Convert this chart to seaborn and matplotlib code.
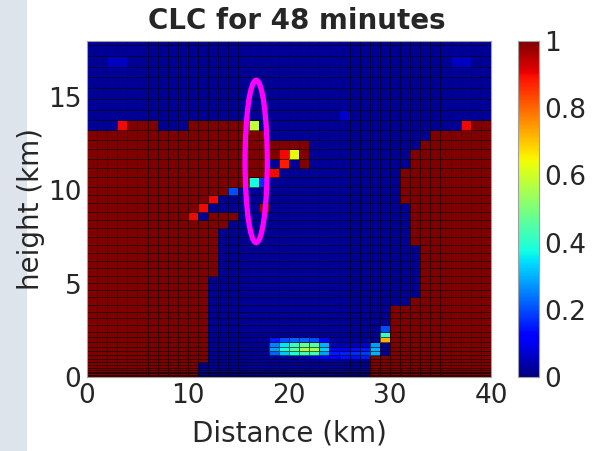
import numpy as np
import matplotlib
matplotlib.use("Agg")
import matplotlib.pyplot as plt
from matplotlib.patches import Ellipse, Rectangle
import seaborn as sns

sns.set_style("white")
plt.rcParams['font.family'] = ['DejaVu Sans']

# ---- data ----
x_edges = np.arange(0, 41, 1)  # km
z_edges = [0, 0.05, 0.11, 0.2, 0.29, 0.37, 0.5, 0.64, 0.78, 0.96,
           1.18, 1.39, 1.62, 1.89, 2.16, 2.43, 2.79, 3.14, 3.5, 3.88,
           4.29, 4.66, 5.04, 5.43, 5.83, 6.24, 6.66, 7.09, 7.52, 7.96,
           8.41, 8.85, 9.3, 9.75, 10.19, 10.73, 11.18, 11.66, 12.2, 12.7,
           13.23, 13.77, 14.33, 14.9, 15.47, 16.05, 16.63, 17.22, 17.8, 18.4]

# number of fully cloudy columns from the left edge, per level
left_cloud = [11, 11, 11, 11, 11, 11, 11, 11,
              12, 12, 12, 12, 12, 12, 12, 12, 12, 12, 12, 12, 12, 12, 12,
              13, 13, 13, 13, 13, 13,
              14, 15, 11, 12, 14, 16, 18, 18, 19, 22, 18,
              0, 0, 0, 0, 0, 0, 0, 0, 0]
# first fully cloudy column on the right side, per level
right_cloud = [28, 28, 28, 28, 28, 28, 28, 28, 28, 28,
               30, 30, 30, 30, 30, 30, 30, 30, 30,
               32,
               33, 33, 33, 33, 33, 33, 33,
               32, 32, 32, 32, 32,
               31, 31, 31, 31,
               32, 32, 33, 34, 38,
               40, 40, 40, 40, 40, 40, 40, 40]
# extra cloudy spans: (level, first col, last col)
cloud_spans = [(40, 4, 6), (40, 10, 15), (37, 21, 21), (36, 21, 21)]
# individual cells: (level, col, fraction)
cells = [(40, 3, 0.9), (40, 16, 0.58), (40, 37, 0.9),
         (37, 19, 0.9), (37, 20, 0.63), (36, 19, 0.88),
         (35, 18, 0.9), (34, 16, 0.38), (34, 17, 0.17), (33, 14, 0.2),
         (32, 12, 0.9), (31, 11, 0.9), (30, 10, 0.9), (30, 11, 0.03),
         (31, 17, 0.97),
         (46, 2, 0.06), (46, 3, 0.06), (46, 36, 0.06), (46, 37, 0.06), (41, 25, 0.07),
         (14, 29, 0.42), (13, 29, 0.72), (15, 29, 0.2),
         (10, 28, 0.3), (11, 28, 0.3), (12, 28, 0.28), (10, 27, 0.18), (11, 27, 0.15)]
# low cloud patch near 20 km: level -> values for the listed columns
low_cloud_cols = [18, 19, 20, 21, 22, 23, 24, 25, 26, 27]
low_cloud = {
    9:  [0.03, 0.03, 0.03, 0.05, 0.08, 0.12, 0.12, 0.14, 0.14, 0.15],
    10: [0.22, 0.32, 0.38, 0.42, 0.42, 0.28, 0.15, 0.16, 0.17, 0.18],
    11: [0.28, 0.38, 0.45, 0.55, 0.55, 0.33, 0.12, 0.12, 0.14, 0.15],
    12: [0.25, 0.35, 0.42, 0.48, 0.46, 0.3, 0.05, 0.05, 0.06, 0.08],
    13: [0.15, 0.2, 0.22, 0.22, 0.2, 0.12, 0.03, 0.03, 0.03, 0.03],
}
background = 0.02

# ---- build field ----
nz = len(z_edges) - 1
nx = len(x_edges) - 1
clc = np.full((nz, nx), background)
for k in range(nz):
    clc[k, :left_cloud[k]] = 1.0
    clc[k, right_cloud[k]:] = 1.0
for k, c0, c1 in cloud_spans:
    clc[k, c0:c1 + 1] = 1.0
for k, vals in low_cloud.items():
    for c, v in zip(low_cloud_cols, vals):
        clc[k, c] = max(v, background)
for k, c, v in cells:
    clc[k, c] = v

# ---- figure ----
fig = plt.figure(figsize=(6.02, 4.51), dpi=100)
fig.patches.append(Rectangle((0, 0), 0.045, 1, transform=fig.transFigure,
                             facecolor='#dde4eb', edgecolor='none', zorder=-1))
ax = fig.add_axes([0.1445, 0.164, 0.6711, 0.745])
cax = fig.add_axes([0.8605, 0.164, 0.0349, 0.745])

cmap = matplotlib.colormaps['jet']
mesh = ax.pcolormesh(x_edges, z_edges, clc, cmap=cmap, vmin=0, vmax=1,
                     edgecolors=(0, 0, 0, 0.6), linewidth=0.5, shading='flat')
ax.set_xlim(0, 40)
ax.set_ylim(0, 18)
ax.set_xticks([0, 10, 20, 30, 40])
ax.set_yticks([0, 5, 10, 15])
ax.tick_params(direction='in', labelsize=19, length=5, color='#333333', pad=4)
ax.set_xlabel('Distance (km)', fontsize=20, color='#262626', labelpad=8)
ax.set_ylabel('height (km)', fontsize=20, color='#262626', labelpad=2)
ax.set_title('CLC for 48 minutes', fontsize=20, fontweight='bold', pad=9, x=0.52)
for s in ax.spines.values():
    s.set_color('#a0a0a0')
    s.set_linewidth(0.8)

ell = Ellipse((16.75, 11.55), 2.2, 8.7, fill=False, edgecolor='#ff00ff',
              linewidth=3.8, zorder=5)
ax.add_patch(ell)

cb = fig.colorbar(mesh, cax=cax, ticks=[0, 0.2, 0.4, 0.6, 0.8, 1])
cb.ax.set_yticklabels(['0', '0.2', '0.4', '0.6', '0.8', '1'])
cb.ax.tick_params(labelsize=19, direction='in', length=3, color='#444444')
cb.outline.set_edgecolor('#a0a0a0')
cb.outline.set_linewidth(0.8)

fig.savefig('out.png', dpi=100)
